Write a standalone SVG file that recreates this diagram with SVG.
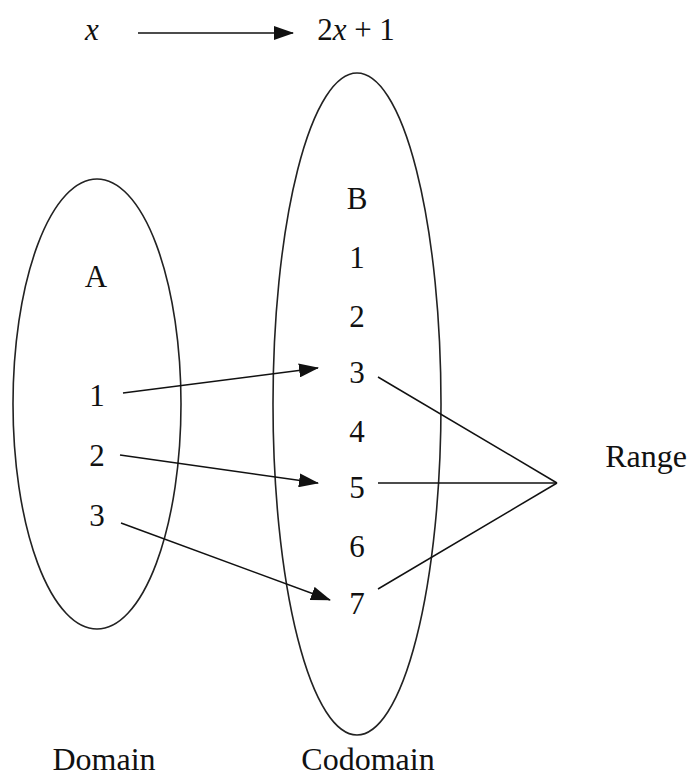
<svg xmlns="http://www.w3.org/2000/svg" width="689" height="776" viewBox="0 0 689 776">
<style>
text{font-family:"Liberation Serif","Times New Roman",serif;font-size:31px;fill:#111;text-anchor:middle}
.big{font-size:32px}
.set{fill:none;stroke:#222;stroke-width:1.6}
.ln{stroke:#111;stroke-width:1.5;fill:none}
</style>
<defs>
<marker id="ah" markerWidth="20" markerHeight="14" refX="19" refY="7" orient="auto" markerUnits="userSpaceOnUse">
<path d="M0,0 L20,7 L0,14 Z" fill="#111"/>
</marker>
</defs>
<g id="rule">
<text x="92" y="40" font-style="italic">x</text>
<line class="ln" x1="138" y1="33" x2="293" y2="33" marker-end="url(#ah)"/>
<text x="356" y="40"><tspan>2</tspan><tspan font-style="italic">x</tspan><tspan> + 1</tspan></text>
</g>
<g id="setA">
<ellipse class="set" cx="97" cy="404" rx="84" ry="225"/>
<text x="96" y="287">A</text>
<text x="97" y="406">1</text>
<text x="97" y="466">2</text>
<text x="97" y="526">3</text>
</g>
<g id="setB">
<ellipse class="set" cx="357" cy="404" rx="84" ry="331"/>
<text x="357" y="209">B</text>
<text x="357" y="268">1</text>
<text x="357" y="327">2</text>
<text x="357" y="383">3</text>
<text x="357" y="442">4</text>
<text x="357" y="498">5</text>
<text x="357" y="557">6</text>
<text x="357" y="614">7</text>
</g>
<g id="labels">
<text class="big" x="104" y="770">Domain</text>
<text class="big" x="368" y="770">Codomain</text>
<text class="big" x="646" y="467">Range</text>
</g>
<g id="connectors">
<line class="ln" x1="123" y1="393" x2="318" y2="368" marker-end="url(#ah)"/>
<line class="ln" x1="120" y1="455" x2="318" y2="483" marker-end="url(#ah)"/>
<line class="ln" x1="121" y1="523" x2="330" y2="600" marker-end="url(#ah)"/>
<line class="ln" x1="378" y1="377" x2="557" y2="483"/>
<line class="ln" x1="378" y1="483" x2="557" y2="483"/>
<line class="ln" x1="378" y1="589" x2="557" y2="483"/>
</g>
</svg>
